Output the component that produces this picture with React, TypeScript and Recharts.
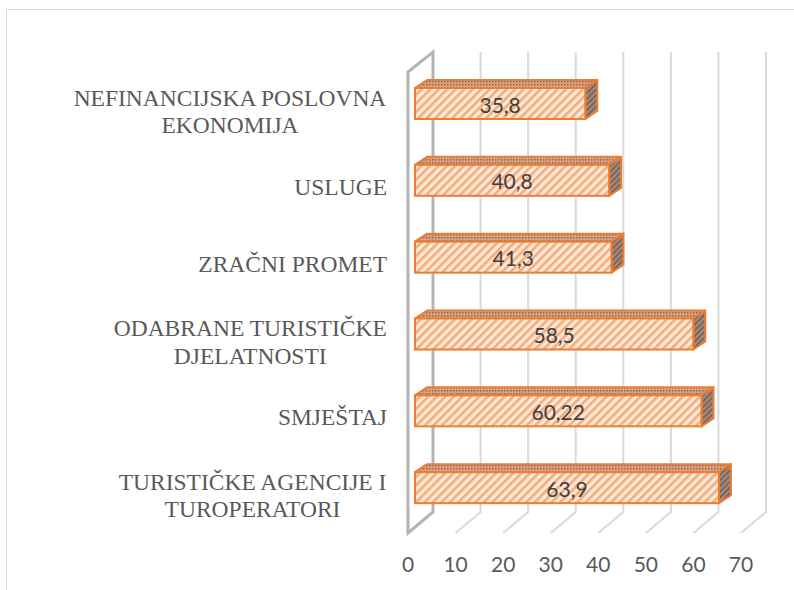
import React from 'react';
import { BarChart, Bar, XAxis, YAxis, CartesianGrid } from 'recharts';

const categories = [
  'NEFINANCIJSKA POSLOVNA EKONOMIJA',
  'USLUGE',
  'ZRAČNI PROMET',
  'ODABRANE TURISTIČKE DJELATNOSTI',
  'SMJEŠTAJ',
  'TURISTIČKE AGENCIJE I TUROPERATORI',
];
const labelLines = [
  ['NEFINANCIJSKA POSLOVNA', 'EKONOMIJA'],
  ['USLUGE'],
  ['ZRAČNI PROMET'],
  ['ODABRANE TURISTIČKE', 'DJELATNOSTI'],
  ['SMJEŠTAJ'],
  ['TURISTIČKE AGENCIJE I', 'TUROPERATORI'],
];
const values = [35.8, 40.8, 41.3, 58.5, 60.22, 63.9];
const xTicks = [0, 10, 20, 30, 40, 50, 60, 70];

const data = categories.map((name, i) => ({ name, value: values[i], lines: labelLines[i] }));

// 3d look
const WALL_DX = 25;
const WALL_DY = 20;
const BAR_SHIFT = 7;
const BOX_DX = 12;
const BOX_DY = 8;

const SERIF = '"Liberation Serif", "Times New Roman", serif';
const LABEL_SIZE = 23.5;
let ctx: CanvasRenderingContext2D | null = null;
const measure = (s: string) => {
  if (!ctx) ctx = document.createElement('canvas').getContext('2d');
  if (!ctx) return s.length * 12;
  ctx.font = `${LABEL_SIZE}px ${SERIF}`;
  return ctx.measureText(s).width;
};

const CategoryTick = (props: any) => {
  const { y, index } = props;
  const lines: string[] = labelLines[index] || [String(props.payload.value)];
  const right = 387;
  const maxW = Math.max(...lines.map(measure));
  const cx = right - maxW / 2;
  const n = lines.length;
  const first = y + 7.5 + 1.5 * (n - 1) - (n - 1) * 13.75;
  return (
    <g>
      {lines.map((l, i) => (
        <text key={i} x={cx} y={first + i * 27.5} textAnchor="middle"
          fontFamily={SERIF} fontSize={LABEL_SIZE} fill="#595959">{l}</text>
      ))}
    </g>
  );
};

const ValueTick = (props: any) => {
  const { x, payload } = props;
  return (
    <text x={x} y={572} textAnchor="middle" fontFamily="Lato" fontSize={21} fill="#595959">
      {payload.value}
    </text>
  );
};

const gridLine = (p: any) => {
  const { x1, y1, y2, index } = p;
  if (index === 0) {
    const pts = `${x1},${y1} ${x1 + WALL_DX},${y1 - WALL_DY} ${x1 + WALL_DX},${y2 - WALL_DY - 1} ${x1},${y2}`;
    return <polygon key={p.key} points={pts} fill="none" stroke="#b4b4b4" strokeWidth={3} strokeLinejoin="miter" />;
  }
  const pts = `${x1},${y2} ${x1 + WALL_DX},${y2 - WALL_DY - 1} ${x1 + WALL_DX},${y1 - WALL_DY}`;
  return <polyline key={p.key} points={pts} fill="none" stroke="#d9d9d9" strokeWidth={2} />;
};

const Box = (props: any) => {
  const { x, y, width, height, value, index } = props;
  const fx = x + BAR_SHIFT;
  const fy = y - BAR_SHIFT;
  const w = width;
  const h = height;
  const id = `b${index}`;
  const top = `${fx},${fy} ${fx + BOX_DX},${fy - BOX_DY} ${fx + w + BOX_DX},${fy - BOX_DY} ${fx + w},${fy}`;
  const side = `${fx + w},${fy} ${fx + w + BOX_DX},${fy - BOX_DY} ${fx + w + BOX_DX},${fy + h - BOX_DY} ${fx + w},${fy + h}`;
  return (
    <g>
      <defs>
        <pattern id={`${id}f`} width="6" height="6" patternUnits="userSpaceOnUse" patternTransform="rotate(45)">
          <rect width="6" height="6" fill="#fde8da" />
          <rect width="2.6" height="6" fill="#f6ac78" />
        </pattern>
        <pattern id={`${id}t`} width="3" height="3" patternUnits="userSpaceOnUse">
          <rect width="3" height="3" fill="#d8a384" />
          <rect width="1.5" height="1.5" fill="#8c6652" />
        </pattern>
        <pattern id={`${id}s`} width="4" height="4" patternUnits="userSpaceOnUse" patternTransform="rotate(45)">
          <rect width="4" height="4" fill="#a88a78" />
          <rect width="1.6" height="4" fill="#6f5d55" />
        </pattern>
      </defs>
      <polygon points={top} fill={`url(#${id}t)`} stroke="#ed7d31" strokeWidth={2} strokeLinejoin="round" />
      <polygon points={side} fill={`url(#${id}s)`} stroke="#ed7d31" strokeWidth={2} strokeLinejoin="round" />
      <rect x={fx} y={fy} width={w} height={h} fill={`url(#${id}f)`} stroke="#ed7d31" strokeWidth={2} />
      <text x={fx + w / 2} y={fy + h / 2 + 9} textAnchor="middle" fontFamily="Lato" fontSize={21} fill="#404040">
        {String(value).replace('.', ',')}
      </text>
    </g>
  );
};

export default function App() {
  return (
    <div style={{ position: 'relative', width: 794, height: 590, overflow: 'hidden', background: '#fff' }}>
      <style>{'body{margin:0}'}</style>
      <div style={{ position: 'absolute', left: 6, top: 9, width: 820, height: 620, border: '1.5px solid #d9d9d9' }} />
      <div style={{ position: 'absolute', left: 0, top: 0 }}>
        <BarChart width={794} height={590} data={data} layout="vertical"
          margin={{ top: 72, right: 53, bottom: 27, left: 8 }} barCategoryGap={0}>
          <CartesianGrid horizontal={false} vertical={gridLine} />
          <XAxis type="number" domain={[0, 70]} ticks={xTicks} axisLine={false} tickLine={false}
            height={30} tick={<ValueTick />} interval={0} />
          <YAxis type="category" dataKey="name" width={400} axisLine={false} tickLine={false}
            tick={<CategoryTick />} interval={0} />
          <Bar dataKey="value" barSize={31} shape={<Box />} isAnimationActive={false} />
        </BarChart>
      </div>
    </div>
  );
}
